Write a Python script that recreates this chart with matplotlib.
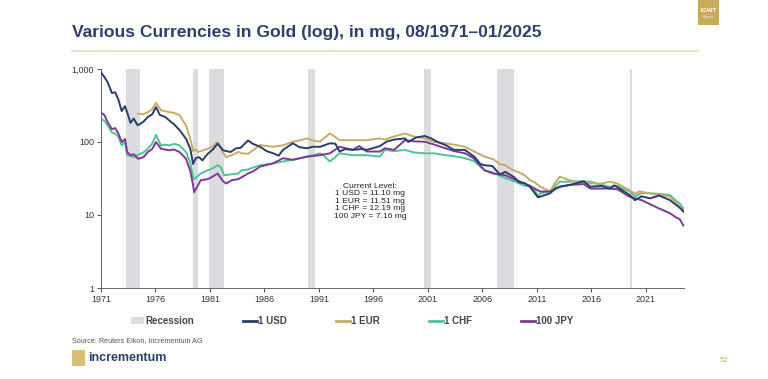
import matplotlib
matplotlib.use("Agg")
import matplotlib.pyplot as plt
import numpy as np
from matplotlib.patches import Rectangle
from matplotlib.lines import Line2D
from matplotlib.patches import Patch

plt.rcParams['font.family'] = ['Liberation Sans', 'DejaVu Sans']

# ---------------- data (mg of gold per currency unit) ----------------
usd_t = [1971.6, 1971.9, 1972.2, 1972.6, 1972.9, 1973.2, 1973.5, 1973.8, 1974.1, 1974.3, 1974.6, 1974.95,
         1975.2, 1975.5, 1975.9, 1976.3, 1976.65, 1977.0, 1977.5, 1977.9, 1978.3, 1978.8, 1979.4, 1979.8,
         1980.05, 1980.3, 1980.6, 1980.9, 1981.4, 1981.9, 1982.3, 1982.8, 1983.1, 1983.5, 1984.0, 1984.4,
         1985.1, 1985.5, 1986.2, 1986.8, 1987.4, 1987.9, 1988.3, 1989.2, 1989.8, 1990.5, 1991.0, 1991.7,
         1992.6, 1993.1, 1993.5, 1994.0, 1994.7, 1995.5, 1996.0, 1996.5, 1997.2, 1997.8, 1998.5, 1999.5,
         1999.8, 2000.5, 2001.3, 2001.9, 2002.5, 2003.2, 2004.0, 2005.0, 2005.9, 2006.4, 2006.8, 2007.5,
         2008.2, 2008.7, 2009.5, 2010.0, 2010.5, 2010.95, 2011.7, 2011.9, 2012.8, 2013.3, 2013.7, 2014.6,
         2015.9, 2016.5, 2017.5, 2018.3, 2018.7, 2019.5, 2020.1, 2020.6, 2021.2, 2022.0, 2022.8, 2023.8,
         2024.3, 2024.6, 2024.9, 2025.05]
usd_v = [900, 780, 664, 470, 480, 380, 265, 310, 230, 183, 210, 170,
         177, 190, 220, 240, 300, 235, 220, 195, 175, 146, 111, 80,
         50, 60, 62, 56, 69, 80, 95, 77, 75, 73, 82, 83,
         105, 95, 86, 75, 70, 65, 78, 96, 85, 82, 86, 86,
         96, 95, 74, 80, 78, 80, 78, 82, 88, 101, 108, 112,
         100, 115, 121, 112, 100, 91, 78, 78, 62, 50, 48, 47,
         36, 39, 33, 28, 27, 24.4, 17.5, 17.8, 19.8, 23, 24.4, 25.8,
         29, 24.4, 25, 23, 25.5, 21.5, 18.8, 16, 18, 16.9, 18.5, 16,
         14, 13, 11.8, 11.10]

eur_t = [1975.0, 1975.5, 1975.9, 1976.3, 1976.65, 1977.1, 1977.85, 1978.3, 1978.8, 1979.4, 1979.8,
         1980.05, 1980.3, 1980.5, 1981.0, 1981.4, 1981.9, 1982.3, 1982.8, 1983.1, 1983.6, 1984.2,
         1984.5, 1985.1, 1985.6, 1986.2, 1986.8, 1987.4, 1988.3, 1989.2, 1989.8, 1990.5, 1991.0,
         1991.7, 1992.6, 1993.0, 1993.5, 1994.7, 1996.0, 1997.2, 1997.65, 1998.4, 1999.5, 2000.2,
         2001.3, 2002.2, 2003.2, 2004.0, 2005.0, 2005.8, 2006.8, 2007.6, 2008.2, 2008.7, 2009.3,
         2010.0, 2010.5, 2010.95, 2011.4, 2011.9, 2012.8, 2013.3, 2013.7, 2014.6, 2015.5, 2016.5,
         2017.5, 2018.3, 2019.0, 2019.6, 2020.1, 2020.6, 2021.0, 2022.0, 2022.8, 2023.8, 2024.3,
         2024.7, 2025.05]
eur_v = [244, 240, 257, 280, 345, 272, 257, 250, 234, 169, 110,
         75, 79, 73, 77, 81, 88, 100, 72, 62, 66, 73,
         70, 69, 78, 91, 88, 86, 90, 101, 105, 112, 105,
         101, 131, 120, 106, 106, 106, 112, 108, 118, 131, 120,
         112, 100, 96, 92, 86, 75, 63, 58, 50, 48, 42,
         38, 35, 30, 28, 24.4, 21, 28, 33.5, 30, 28, 27,
         27, 28.6, 27, 24, 22, 19.5, 21, 19.8, 19, 17.8, 15,
         13, 11.51]

chf_t = [1971.6, 1971.9, 1972.2, 1972.6, 1972.9, 1973.2, 1973.5, 1973.8, 1974.0, 1974.3, 1974.6, 1974.95,
         1975.2, 1975.5, 1975.9, 1976.3, 1976.65, 1977.1, 1977.5, 1977.85, 1978.3, 1978.8, 1979.4, 1979.8,
         1980.05, 1980.15, 1980.75, 1981.4, 1981.9, 1982.3, 1982.6, 1982.9, 1983.5, 1984.2, 1984.5,
         1985.1, 1985.6, 1986.2, 1987.4, 1988.3, 1989.2, 1990.5, 1991.7, 1992.0, 1992.6, 1993.5,
         1994.7, 1996.0, 1997.2, 1997.65, 1998.5, 1999.5, 2000.3, 2001.3, 2002.2, 2003.2, 2004.0,
         2005.0, 2005.8, 2006.8, 2007.6, 2008.7, 2009.5, 2010.5, 2010.95, 2011.4, 2011.7, 2011.9,
         2012.8, 2013.7, 2014.6, 2015.5, 2016.5, 2017.5, 2018.3, 2019.0, 2020.1, 2020.6, 2021.2,
         2022.0, 2022.8, 2023.8, 2024.3, 2024.7, 2025.05]
chf_v = [209, 195, 169, 135, 130, 117, 90, 100, 66, 64, 62, 66,
         69, 72, 81, 95, 125, 90, 92, 90, 94, 90, 73, 52,
         33, 31, 37, 41, 44, 48, 45, 35, 36, 37, 41,
         42, 45, 48, 51, 54, 57, 63, 70, 66, 54, 70,
         66, 66, 63, 78, 75, 78, 72, 70, 70, 66, 64,
         60, 55, 41, 38, 32, 29, 25, 25.5, 22, 18, 19.8,
         21, 28.6, 28.6, 29, 28.6, 26, 24.4, 25, 21, 18, 20,
         19.8, 19.5, 18.8, 16, 14.5, 12.19]

jpy_t = [1971.6, 1971.9, 1972.2, 1972.6, 1972.9, 1973.2, 1973.5, 1973.8, 1974.0, 1974.3, 1974.6, 1975.0,
         1975.5, 1975.9, 1976.3, 1976.65, 1977.1, 1977.85, 1978.3, 1978.8, 1979.4, 1979.8, 1980.05,
         1980.15, 1980.75, 1981.4, 1981.9, 1982.3, 1982.8, 1983.1, 1983.6, 1984.2, 1985.1, 1985.6,
         1986.2, 1987.4, 1988.3, 1989.2, 1990.5, 1991.7, 1992.6, 1993.5, 1994.7, 1995.3, 1996.0,
         1997.2, 1997.65, 1998.5, 1999.5, 2000.3, 2001.3, 2002.2, 2003.2, 2004.0, 2005.0, 2005.8,
         2006.8, 2007.6, 2008.7, 2009.5, 2010.5, 2011.4, 2011.9, 2012.8, 2013.7, 2014.6, 2015.9,
         2016.5, 2018.3, 2019.0, 2020.1, 2021.2, 2022.8, 2023.8, 2024.4, 2024.7, 2025.05]
jpy_v = [252, 235, 188, 150, 155, 130, 100, 110, 73, 66, 68, 59,
         62, 73, 80, 100, 81, 77, 79, 73, 59, 40, 25.5,
         20.5, 30, 31, 34, 37, 29, 27, 30, 31, 37, 40,
         46, 51, 60, 57, 63, 66, 70, 86, 78, 88, 74,
         74, 82, 78, 106, 102, 101, 92, 82, 75, 70, 60,
         41, 37, 35, 31, 27, 23, 21, 21, 24.4, 25.8, 26.5,
         23, 23, 22.5, 17.8, 16, 12.3, 10.6, 9.2, 8.8, 7.16]

recessions = [(1973.87, 1975.2), (1980.0, 1980.5), (1981.5, 1982.9), (1990.55, 1991.2),
              (2001.2, 2001.9), (2007.95, 2009.5), (2020.1, 2020.35)]

tick_years = [1971, 1976, 1981, 1986, 1991, 1996, 2001, 2006, 2011, 2016, 2021]
y_ticks = [1, 10, 100, 1000]
y_labels = ["1", "10", "100", "1,000"]
series_names = ["1 USD", "1 EUR", "1 CHF", "100 JPY"]
current_levels = ["1 USD = 11.10 mg", "1 EUR = 11.51 mg", "1 CHF = 12.19 mg", "100 JPY = 7.16 mg"]

# ---------------- styling ----------------
C_USD = "#2c3c6b"
C_EUR = "#c9ab66"
C_CHF = "#4fc39c"
C_JPY = "#7b3a98"
C_REC = "#dcdce0"
C_NAVY = "#2d3f6a"

fig = plt.figure(figsize=(7.68, 3.79), dpi=100)
W, H = 768, 379

ax = fig.add_axes([101 / W, 1 - 288 / H, (684 - 101) / W, (288 - 69) / H])

for a, b in recessions:
    ax.axvspan(a, b, color=C_REC, lw=0, zorder=0)

lw = 1.4
ax.plot(chf_t, chf_v, color=C_CHF, lw=lw, zorder=2)
ax.plot(eur_t, eur_v, color=C_EUR, lw=lw, zorder=3)
ax.plot(jpy_t, jpy_v, color=C_JPY, lw=lw, zorder=4)
ax.plot(usd_t, usd_v, color=C_USD, lw=lw, zorder=5)

ax.set_yscale("log")
ax.set_ylim(1, 1000)
ax.set_xlim(1971.6, 2025.1)
ax.set_yticks(y_ticks)
ax.set_yticklabels(y_labels)
ax.yaxis.set_minor_locator(matplotlib.ticker.NullLocator())
ax.set_xticks([y + 0.6 for y in tick_years])
ax.set_xticklabels([str(y) for y in tick_years])
ax.tick_params(axis="both", labelsize=6.5, colors="#333333", length=3, width=0.6, direction="out", pad=2)
for s in ["top", "right"]:
    ax.spines[s].set_visible(False)
for s in ["left", "bottom"]:
    ax.spines[s].set_color("#666666")
    ax.spines[s].set_linewidth(0.7)

# current level annotation
ax.text(0.462, 0.395, "Current Level:\n" + "\n".join(current_levels), transform=ax.transAxes,
        ha="center", va="center", fontsize=6.1, color="#222222", linespacing=1.1)

# legend
handles = [Patch(facecolor=C_REC, edgecolor="none", label="Recession"),
           Line2D([], [], color=C_USD, lw=2, label=series_names[0]),
           Line2D([], [], color=C_EUR, lw=2, label=series_names[1]),
           Line2D([], [], color=C_CHF, lw=2, label=series_names[2]),
           Line2D([], [], color=C_JPY, lw=2, label=series_names[3])]
leg = fig.legend(handles=handles, loc="center", bbox_to_anchor=(352 / W, 1 - 321 / H), ncol=5,
                 frameon=False, handlelength=1.4, handletextpad=0.1, columnspacing=5.1,
                 prop={"weight": "bold", "size": 7})
for t in leg.get_texts():
    t.set_color("#444444")

# title and decorations
fig.text(72 / W, 1 - 32 / H, "Various Currencies in Gold (log), in mg, 08/1971\u201301/2025",
         fontsize=12.6, fontweight="bold", color=C_NAVY, ha="left", va="center")
fig.add_artist(Line2D([72 / W, 698 / W], [1 - 51 / H, 1 - 51 / H], color="#e6e2cc", lw=1.5))
fig.add_artist(Rectangle((698 / W, 1 - 25 / H), 21 / W, 25 / H, facecolor="#c9a95a", edgecolor="none"))
fig.text(708.5 / W, 1 - 10 / H, "IGWT", fontsize=4.5, fontweight="bold", color="white", ha="center", va="center")
fig.text(708.5 / W, 1 - 17 / H, "Report", fontsize=2.5, color="white", ha="center", va="center")

fig.text(72 / W, 1 - 341 / H, "Source: Reuters Eikon, Incrementum AG", fontsize=5.2, color="#555555",
         ha="left", va="center")
fig.add_artist(Rectangle((72 / W, 1 - 366 / H), 13 / W, 16 / H, facecolor="#d8bf78", edgecolor="none"))
fig.text(88 / W, 1 - 358 / H, "incrementum", fontsize=9, fontweight="bold", color=C_NAVY,
         ha="left", va="center")
fig.text(724 / W, 1 - 361 / H, "52", fontsize=5.5, color="#c9a95a", ha="center", va="center")

fig.savefig("out.png", dpi=100)
